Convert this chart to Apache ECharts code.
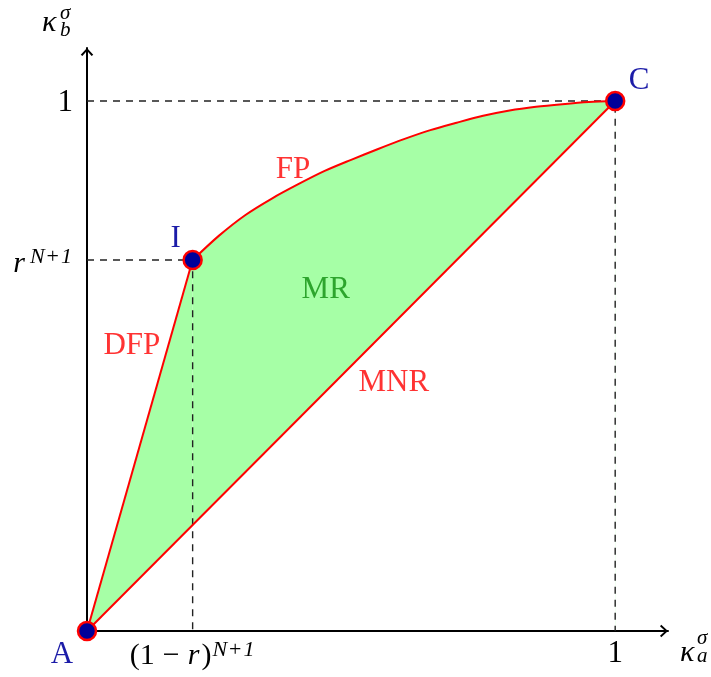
<!DOCTYPE html>
<html>
<head>
<meta charset="utf-8">
<script src="https://cdn.jsdelivr.net/npm/echarts@6/dist/echarts.min.js"></script>
<style>
html, body { margin: 0; padding: 0; background: #fff; }
#chart { width: 711px; height: 677px; }
</style>
</head>
<body>
<div id="chart"></div>
<script>
// corner points of the region
var pointA = [0, 0];
var pointI = [0.2, 0.7];
var pointC = [1, 1];
var pointNames = ['A', 'I', 'C'];
// FP curve between I and C, every 0.05
var fpX = [0.25, 0.30, 0.35, 0.40, 0.45, 0.50, 0.55, 0.60, 0.65, 0.70, 0.75, 0.80, 0.85, 0.90, 0.95];
var fpY = [0.746, 0.785, 0.816, 0.843, 0.868, 0.889, 0.909, 0.928, 0.945, 0.959, 0.972, 0.982, 0.989, 0.994, 0.998];
// tick positions
var xTicks = [0.2, 1];
var yTicks = [0.7, 1];
// region / curve names and where they sit
var annotationNames = ['FP', 'DFP', 'MR', 'MNR'];
var annotationPos = [[0.39, 0.871], [0.085, 0.538], [0.452, 0.643], [0.581, 0.468]];

var serif = '"Liberation Serif", "DejaVu Serif", serif';
var red = '#ff0000';
var blue = '#1c1ca8';
var green = '#a6ffa6';
var annColors = [red, red, '#0f8f0f', red];

var dfpLine = [pointA, pointI];
var fpLine = [pointI].concat(fpX.map(function (x, k) { return [x, fpY[k]]; }), [pointC]);
var mnrLine = [pointA, pointC];

var chart = echarts.init(document.getElementById('chart'));

var arrow = 'path://M0,7 L6.5,0 L13,7 L11.3,8.3 L6.5,2.9 L1.7,8.3 Z';

function axisCommon() {
    return {
        type: 'value',
        min: 0,
        max: 1.1,
        z: 3,
        splitLine: { show: false },
        axisTick: { show: false },
        axisLine: {
            onZero: false,
            symbol: ['none', arrow],
            symbolSize: [13, 8],
            symbolOffset: [0, -4],
            lineStyle: { color: '#000', width: 2 }
        }
    };
}

function tok(size, italic, lh, pad) {
    return {
        fontFamily: serif,
        fontStyle: italic ? 'italic' : 'normal',
        fontSize: size,
        color: '#000',
        lineHeight: lh,
        verticalAlign: 'bottom',
        padding: pad || 0
    };
}

var xAxis = axisCommon();
xAxis.axisLabel = {
    customValues: xTicks,
    margin: 6,
    formatter: function (v) {
        if (v === 1) return '{n|1}';
        return '{b|(1}{o|−}{i|r}{b|)}{s|N}{p|+}{s|1}';
    },
    rich: {
        n: tok(31, false, 32),
        b: tok(30, false, 34),
        o: tok(30, false, 34, [0, 8, 0, 8]),
        i: tok(30, true, 34, [0, 2, 0, 0]),
        s: tok(22, true, 34, [0, 1, 10, 1]),
        p: tok(22, false, 34, [0, 1, 10, 1])
    }
};

var yAxis = axisCommon();
yAxis.axisLabel = {
    customValues: yTicks,
    margin: 14,
    formatter: function (v) {
        if (v === 1) return '{n|1}';
        return '{i|r}{s|N}{p|+}{s|1}';
    },
    rich: {
        n: tok(31, false, 34),
        i: tok(30, true, 38, [0, 4, 0, 0]),
        s: tok(22, true, 38, [0, 1, 11, 1]),
        p: tok(22, false, 38, [0, 1, 11, 1])
    }
};

var labelOffsets = [[-25, 24], [-17, -21], [24, -20]];

function areaSeries(data, smooth, z, color) {
    return {
        type: 'line',
        z: z,
        silent: true,
        smooth: smooth,
        showSymbol: false,
        data: data,
        lineStyle: { width: 0 },
        areaStyle: { color: color, opacity: 1 }
    };
}

function redSeries(data, smooth) {
    return {
        type: 'line',
        z: 4,
        smooth: smooth,
        showSymbol: false,
        data: data,
        lineStyle: { color: red, width: 2 }
    };
}

function dashSeries(data) {
    return {
        type: 'line',
        z: 3,
        showSymbol: false,
        data: data,
        lineStyle: { color: '#222', width: 1.4, type: [7, 6] }
    };
}

var option = {
    animation: false,
    grid: { left: 87, right: 43, top: 48, bottom: 46, outerBoundsMode: 'none', containLabel: false },
    xAxis: xAxis,
    yAxis: yAxis,
    graphic: [
        { type: 'text', x: 42, y: 23, style: { text: 'κ', font: 'italic 30px ' + serif, fill: '#000', verticalAlign: 'middle' } },
        { type: 'text', x: 60, y: 13, style: { text: 'σ', font: 'italic 21px ' + serif, fill: '#000', verticalAlign: 'middle' } },
        { type: 'text', x: 60, y: 30, style: { text: 'b', font: 'italic 21px ' + serif, fill: '#000', verticalAlign: 'middle' } },
        { type: 'text', x: 680, y: 653, style: { text: 'κ', font: 'italic 30px ' + serif, fill: '#000', verticalAlign: 'middle' } },
        { type: 'text', x: 697, y: 638, style: { text: 'σ', font: 'italic 21px ' + serif, fill: '#000', verticalAlign: 'middle' } },
        { type: 'text', x: 697, y: 656, style: { text: 'a', font: 'italic 21px ' + serif, fill: '#000', verticalAlign: 'middle' } }
    ],
    series: [
        areaSeries(dfpLine, false, 1, green),
        areaSeries(fpLine, 0.3, 1, green),
        areaSeries(mnrLine, false, 2, '#ffffff'),
        dashSeries([[0, pointC[1]], pointC, [pointC[0], 0]]),
        dashSeries([[0, pointI[1]], pointI, [pointI[0], 0]]),
        redSeries(dfpLine, false),
        redSeries(fpLine, 0.3),
        redSeries(mnrLine, false),
        {
            type: 'scatter',
            z: 5,
            clip: false,
            symbolSize: 18,
            itemStyle: { color: '#000099', borderColor: red, borderWidth: 2.5, opacity: 1 },
            label: {
                show: true,
                position: 'inside',
                formatter: '{b}',
                fontFamily: serif,
                fontSize: 31,
                color: blue
            },
            data: [pointA, pointI, pointC].map(function (p, k) {
                return { name: pointNames[k], value: p, label: { offset: labelOffsets[k] } };
            })
        },
        {
            type: 'scatter',
            z: 5,
            silent: true,
            symbolSize: 1,
            itemStyle: { color: 'rgba(0,0,0,0)' },
            label: {
                show: true,
                position: 'inside',
                formatter: '{b}',
                fontFamily: serif,
                fontSize: 31
            },
            data: annotationPos.map(function (p, k) {
                return { name: annotationNames[k], value: p, label: { color: annColors[k] } };
            })
        }
    ]
};

chart.setOption(option);
</script>
</body>
</html>
